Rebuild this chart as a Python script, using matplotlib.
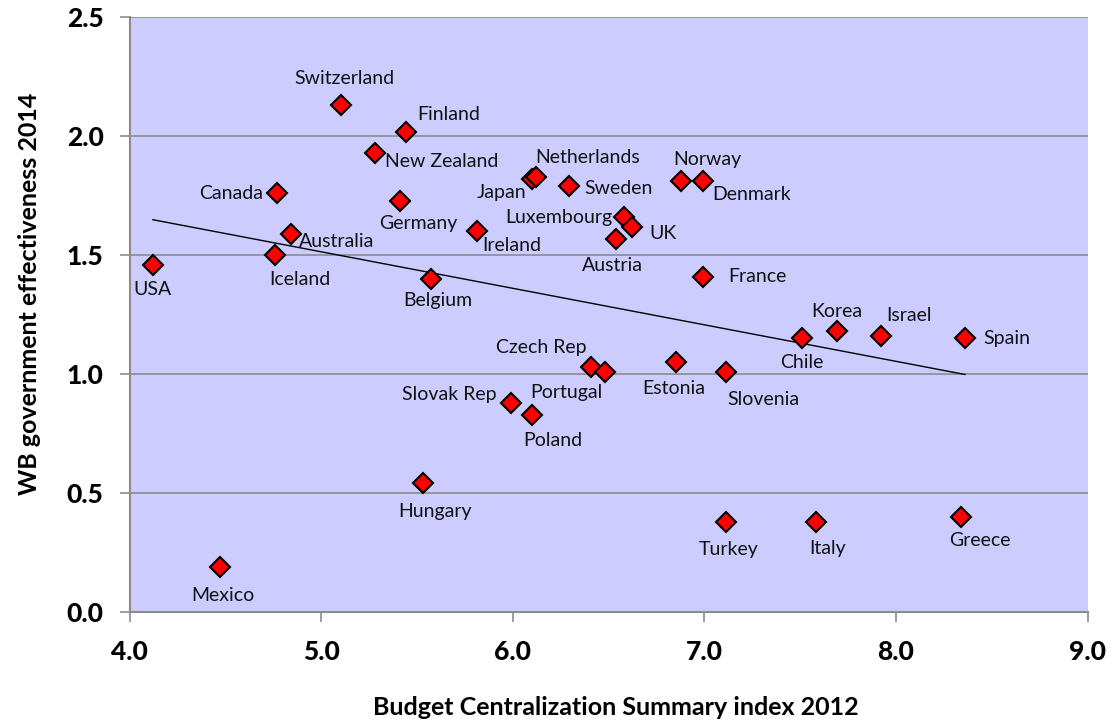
"""
Budget centralization vs WB government effectiveness, OECD countries.
"""

import numpy as np
import matplotlib
matplotlib.use("Agg")
import matplotlib.pyplot as plt

plt.rcParams['font.family'] = ['Lato', 'DejaVu Sans']

# Данные: страна, индекс централизации бюджета 2012, эффективность правительства 2014
countries = [
    'USA', 'Canada', 'Australia', 'Iceland', 'Switzerland', 'New Zealand',
    'Germany', 'Finland', 'Ireland', 'Belgium', 'Japan', 'Netherlands',
    'Sweden', 'Norway', 'Denmark', 'Luxembourg', 'UK', 'Austria', 'France',
    'Chile', 'Korea', 'Israel', 'Spain', 'Slovenia', 'Mexico', 'Hungary',
    'Slovak Rep', 'Poland', 'Czech Rep', 'Portugal', 'Estonia', 'Turkey',
    'Italy', 'Greece',
]
centralization = [
    4.12, 4.77, 4.84, 4.76, 5.10, 5.28,
    5.41, 5.44, 5.81, 5.57, 6.10, 6.12,
    6.29, 6.88, 6.99, 6.58, 6.62, 6.54, 6.99,
    7.51, 7.69, 7.92, 8.36, 7.11, 4.47, 5.53,
    5.99, 6.10, 6.41, 6.48, 6.85, 7.11,
    7.58, 8.34,
]
effectiveness = [
    1.46, 1.76, 1.59, 1.50, 2.13, 1.93,
    1.73, 2.02, 1.60, 1.40, 1.82, 1.83,
    1.79, 1.81, 1.81, 1.66, 1.62, 1.57, 1.41,
    1.15, 1.18, 1.16, 1.15, 1.01, 0.19, 0.54,
    0.88, 0.83, 1.03, 1.01, 1.05, 0.38,
    0.38, 0.40,
]

# Положение подписей: (dx, dy в пикселях, выравнивание)
label_pos = {
    'USA': (0, -25, 'center'), 'Canada': (-14, 0, 'right'),
    'Australia': (8, -8, 'left'), 'Iceland': (24, -24, 'center'),
    'Switzerland': (4, 27, 'center'), 'New Zealand': (10, -9, 'left'),
    'Germany': (18, -23, 'center'), 'Finland': (12, 17, 'left'),
    'Ireland': (6, -14, 'left'), 'Belgium': (7, -22, 'center'),
    'Japan': (-6, -13, 'right'), 'Netherlands': (-1, 19, 'left'),
    'Sweden': (16, -2, 'left'), 'Norway': (-8, 22, 'left'),
    'Denmark': (10, -13, 'left'), 'Luxembourg': (-12, 0, 'right'),
    'UK': (18, -7, 'left'), 'Austria': (-4, -27, 'center'),
    'France': (26, 0, 'left'), 'Chile': (0, -24, 'center'),
    'Korea': (0, 20, 'center'), 'Israel': (28, 21, 'center'),
    'Spain': (18, 0, 'left'), 'Slovenia': (38, -28, 'center'),
    'Mexico': (3, -29, 'center'), 'Hungary': (12, -28, 'center'),
    'Slovak Rep': (-14, 8, 'right'), 'Poland': (21, -26, 'center'),
    'Czech Rep': (-5, 19, 'right'), 'Portugal': (-39, -21, 'center'),
    'Estonia': (-2, -26, 'center'), 'Turkey': (3, -28, 'center'),
    'Italy': (12, -27, 'center'), 'Greece': (19, -24, 'center'),
}

x = np.array(centralization)
y = np.array(effectiveness)

fig = plt.figure(figsize=(11.2, 7.25), dpi=100)
ax = fig.add_axes([0.116, 0.156, 0.855, 0.820])
ax.set_facecolor('#ccccff')

# Линейный тренд (как в Excel)
k, b = np.polyfit(x, y, 1)
xt = np.array([x.min(), x.max()])
ax.plot(xt, k * xt + b, color='black', lw=1.0, zorder=2)

ax.plot(x, y, linestyle='none', marker='D', markersize=10,
        markerfacecolor='#ff0000', markeredgecolor='black',
        markeredgewidth=1.5, zorder=3)

for name, xi, yi in zip(countries, x, y):
    dx, dy, ha = label_pos[name]
    ax.annotate(name, (xi, yi), xytext=(dx, dy), textcoords='offset pixels',
                ha=ha, va='center', fontsize=14, color='#111111', zorder=4)

ax.set_xlim(4.0, 9.0)
ax.set_ylim(0.0, 2.5)
ax.set_xticks(np.arange(4.0, 9.01, 1.0))
ax.set_yticks(np.arange(0.0, 2.51, 0.5))
ax.set_xticklabels([f'{v:.1f}' for v in np.arange(4.0, 9.01, 1.0)])
ax.set_yticklabels([f'{v:.1f}' for v in np.arange(0.0, 2.51, 0.5)])
ax.grid(axis='y', color='#8c8c8c', lw=1.2, zorder=1)
ax.set_axisbelow(True)

for side in ['top', 'right']:
    ax.spines[side].set_visible(False)
for side in ['left', 'bottom']:
    ax.spines[side].set_color('#8c8c8c')
    ax.spines[side].set_linewidth(1.5)

ax.tick_params(axis='both', colors='#8c8c8c', length=7, width=1.2,
               labelcolor='black', labelsize=19)
ax.tick_params(axis='x', pad=13)
ax.tick_params(axis='y', pad=12)
for lbl in ax.get_xticklabels() + ax.get_yticklabels():
    lbl.set_fontweight('black')

ax.set_xlabel('Budget Centralization Summary index 2012', fontsize=18,
              fontweight='bold')
ax.set_ylabel('WB government effectiveness 2014', fontsize=18,
              fontweight='bold')
ax.xaxis.set_label_coords(0.507, -0.141)
ax.yaxis.set_label_coords(-0.093, 0.535)

fig.savefig('out.png', dpi=100)
